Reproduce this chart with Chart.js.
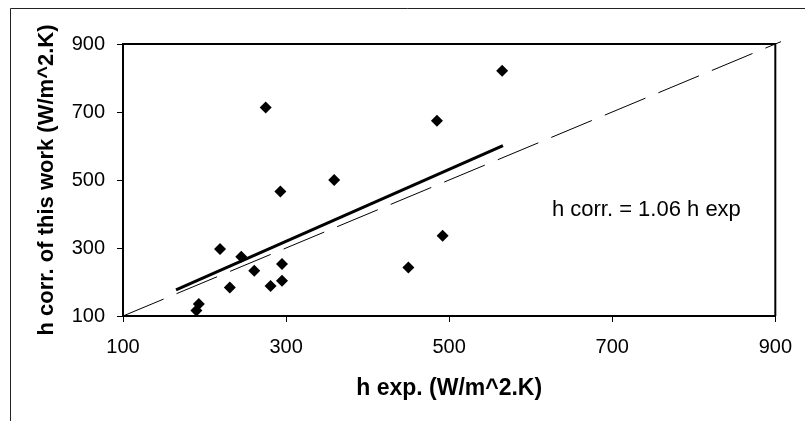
<!DOCTYPE html>
<html>
<head>
<meta charset="utf-8">
<script src="https://cdn.jsdelivr.net/npm/chart.js@4"></script>
<style>
  html, body { margin: 0; padding: 0; background: #fff; }
  canvas { display: block; }
</style>
</head>
<body>
<canvas id="myChart" width="805" height="421"></canvas>
<script>
// measured points
const hExp  = [190, 193, 219, 231, 245, 261, 275, 281, 293, 295, 295, 359, 450, 485, 492, 565];
const hCorr = [116, 135, 297, 184, 274, 233, 713, 188, 466, 253, 204, 500, 243, 674, 336, 821];

// trend line h corr = 1.06 h exp
const fitX = [165, 566];
const fitY = [177, 601];

// y = x reference line
const refX = [100, 907];
const refY = [100, 907];

const xTicks = [100, 300, 500, 700, 900];
const yTicks = [100, 300, 500, 700, 900];

const note = { text: 'h corr. = 1.06 h exp', x: 626, y: 394 };

const toPts = (xs, ys) => xs.map((x, i) => ({ x: x, y: ys[i] }));

// frame + plot box + equation text
const extras = {
    id: 'extras',
    beforeDraw(chart) {
        const c = chart.ctx;
        c.save();
        c.strokeStyle = '#222';
        c.lineWidth = 1;
        c.beginPath();
        c.moveTo(10.5, chart.height);
        c.lineTo(10.5, 8.5);
        c.lineTo(chart.width, 8.5);
        c.stroke();
        c.restore();
    },
    afterDraw(chart) {
        const c = chart.ctx;
        const a = chart.chartArea;
        c.save();
        c.strokeStyle = '#000';
        c.lineWidth = 2;
        c.beginPath();
        c.moveTo(a.left, a.top);
        c.lineTo(a.right, a.top);
        c.lineTo(a.right, a.bottom);
        c.stroke();
        c.fillStyle = '#000';
        c.font = '22px "Liberation Sans", Arial, sans-serif';
        c.textAlign = 'left';
        c.textBaseline = 'alphabetic';
        c.fillText(note.text, chart.scales.x.getPixelForValue(note.x), chart.scales.y.getPixelForValue(note.y));
        c.restore();
    }
};

const tickFont = { family: '"Liberation Sans", Arial, sans-serif', size: 20 };
const titleFont = { family: '"Liberation Sans", Arial, sans-serif', size: 22, weight: 'bold' };

var ctx = document.getElementById('myChart').getContext('2d');
var myChart = new Chart(ctx, {
    type: 'scatter',
    data: {
        datasets: [
            {
                label: 'y = x',
                type: 'line',
                data: toPts(refX, refY),
                borderColor: '#000',
                borderWidth: 1,
                borderDash: [44, 14],
                pointRadius: 0,
                fill: false,
                clip: false,
            },
            {
                label: 'fit',
                type: 'line',
                data: toPts(fitX, fitY),
                borderColor: '#000',
                borderWidth: 3,
                pointRadius: 0,
                fill: false,
            },
            {
                label: 'h corr.',
                data: toPts(hExp, hCorr),
                pointStyle: 'rectRot',
                pointRadius: 6,
                pointBackgroundColor: '#000',
                pointBorderWidth: 0,
                borderWidth: 0,
            },
        ],
    },
    options: {
        responsive: false,
        animation: false,
        layout: { padding: { top: 44, right: 24, left: 0, bottom: 0 } },
        plugins: {
            legend: { display: false },
            tooltip: { enabled: false },
        },
        scales: {
            x: {
                type: 'linear',
                min: 100,
                max: 900,
                afterBuildTicks: s => { s.ticks = xTicks.map(v => ({ value: v })); },
                afterFit: s => { s.height = 105; },
                grid: { drawOnChartArea: false, drawTicks: true, tickLength: 6, color: '#000', lineWidth: 1 },
                border: { display: true, color: '#000', width: 2 },
                ticks: { color: '#000', font: tickFont, padding: 13, maxRotation: 0 },
                title: {
                    display: true,
                    text: 'h exp. (W/m^2.K)',
                    color: '#000',
                    font: { family: titleFont.family, size: 23, weight: 'bold' },
                    padding: { top: 0, bottom: 19 },
                },
            },
            y: {
                type: 'linear',
                min: 100,
                max: 900,
                afterBuildTicks: s => { s.ticks = yTicks.map(v => ({ value: v })); },
                afterFit: s => { s.width = 123; },
                grid: { drawOnChartArea: false, drawTicks: true, tickLength: 6, color: '#000', lineWidth: 1 },
                border: { display: true, color: '#000', width: 2 },
                ticks: { color: '#000', font: tickFont, padding: 12 },
                title: {
                    display: true,
                    text: 'h corr. of this work (W/m^2.K)',
                    color: '#000',
                    font: titleFont,
                    padding: { top: 34, bottom: 0 },
                },
            },
        },
    },
    plugins: [extras],
});
</script>
</body>
</html>
